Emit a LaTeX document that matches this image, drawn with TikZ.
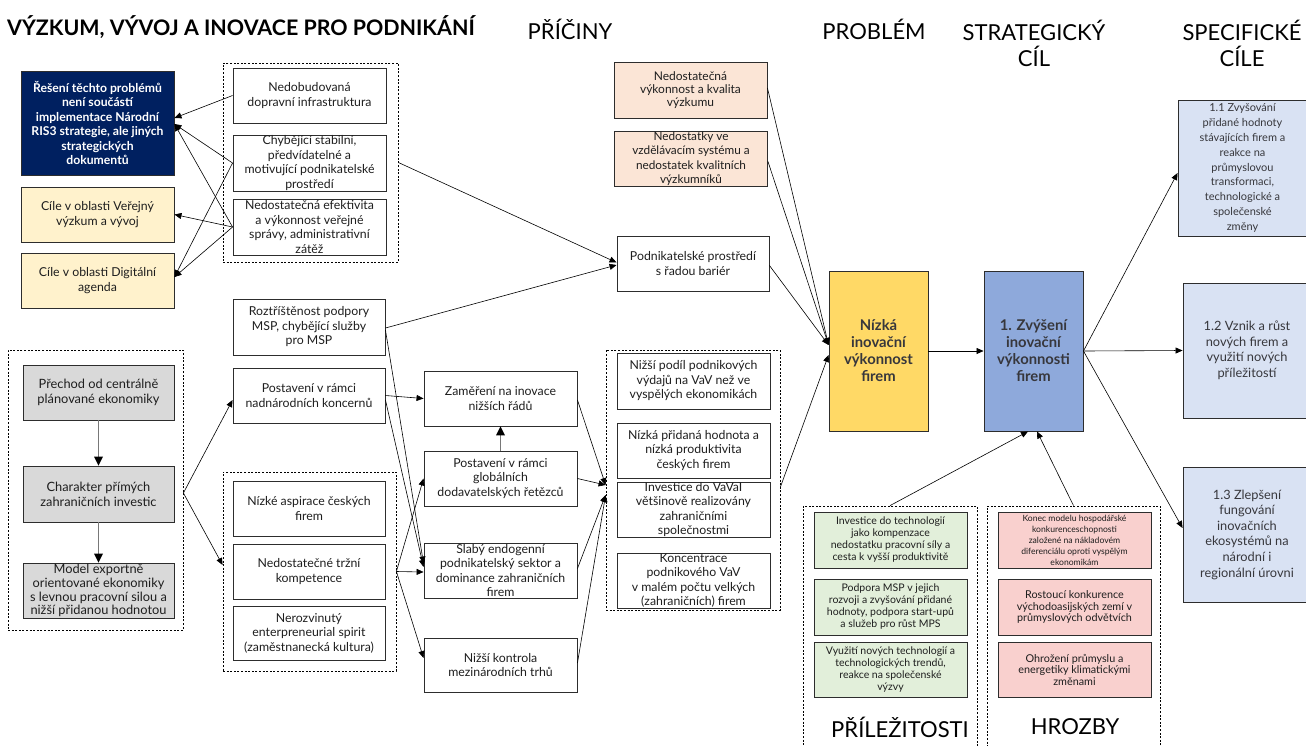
\documentclass[tikz,border=0pt]{standalone}
\usepackage{fontspec}
\setmainfont{Lato}
\usetikzlibrary{arrows.meta}
\definecolor{navyc}{RGB}{0,32,96}
\definecolor{yellc}{RGB}{255,242,204}
\definecolor{grayc}{RGB}{217,217,217}
\definecolor{peachc}{RGB}{251,229,214}
\definecolor{nizkac}{RGB}{255,217,102}
\definecolor{zvysc}{RGB}{142,169,219}
\definecolor{lbluec}{RGB}{217,226,243}
\definecolor{greenc}{RGB}{226,239,218}
\definecolor{pinkc}{RGB}{249,208,206}
\definecolor{bordc}{RGB}{45,45,45}
\definecolor{txtc}{RGB}{30,30,30}
\definecolor{darktxt}{RGB}{55,55,60}
\definecolor{linegray}{RGB}{120,120,120}
\newcommand\myfs[2]{\fontsize{#1}{#2}\selectfont}
\begin{document}
\begin{tikzpicture}[x=1pt,y=-1pt,
  box/.style={draw=bordc, line width=0.9pt, align=center, inner sep=0pt, text=txtc, font=\myfs{12.3}{14.5}},
  wh/.style 2 args={minimum width=#1pt, minimum height=#2pt},
  grp/.style={draw=black, dash pattern=on 2pt off 1.6pt, line width=0.8pt, inner sep=0pt},
  arr/.style={-{Triangle[length=7pt,width=6pt]}, line width=0.6pt, draw=black},
  gline/.style={line width=1.3pt, draw=linegray},
  gtip/.style={fill=black, draw=none},
  head/.style={font=\myfs{22}{26}, text=black, align=center, inner sep=0pt}]
\clip (0,0) rectangle (1306,745);
\fill[white] (0,0) rectangle (1306,745);

% titles
\node[anchor=west, inner sep=0pt, font=\bfseries\myfs{21.4}{24}] (title) at (7,27) {VÝZKUM, VÝVOJ A INOVACE PRO PODNIKÁNÍ};
\node[head] (hpric) at (570,29) {PŘÍČINY};
\node[head] (hprob) at (874,29) {PROBLÉM};
\node[head, anchor=north] (hstrat) at (1034,20) {STRATEGICKÝ\\CÍL};
\node[head, anchor=north] (hspec) at (1242,20) {SPECIFICKÉ\\CÍLE};
\node[head] (hpril) at (900,727) {PŘÍLEŽITOSTI};
\node[head] (hhroz) at (1075,727) {HROZBY};

% dashed groups
\node[grp, wh={175}{199}] (gA) at (310.5,162.5) {};
\node[grp, wh={173}{199}] (gB) at (309.5,571.5) {};
\node[grp, wh={175}{280}] (gL) at (95.5,490) {};
\node[grp, wh={174}{260}] (gC) at (693,480) {};
\node[grp, wh={174}{250}] (gO) at (890,631) {};
\node[grp, wh={173}{250}] (gT) at (1073.5,631) {};

% left column
\node[box, wh={153}{104}, fill=navyc, text=white, font=\bfseries\myfs{12.2}{14.4}] (navy) at (97.5,123) {Řešení těchto problémů\\není součástí\\implementace Národní\\RIS3 strategie, ale jiných\\strategických\\dokumentů};
\node[box, wh={153}{55}, fill=yellc] (ver) at (97.5,214.5) {Cíle v oblasti Veřejný\\výzkum a vývoj};
\node[box, wh={153}{55}, fill=yellc] (dig) at (97.5,280.5) {Cíle v oblasti Digitální\\agenda};
\node[box, wh={151}{55}, fill=grayc, font=\myfs{12.8}{15}] (prech) at (98.5,392.5) {Přechod od centrálně\\plánované ekonomiky};
\node[box, wh={151}{56}, fill=grayc, font=\myfs{12.8}{15}] (chara) at (98.5,494) {Charakter přímých\\zahraničních investic};
\node[box, wh={151}{55}, fill=grayc, font=\myfs{12.8}{13.8}] (model) at (98.5,590.5) {Model exportně\\orientované ekonomiky\\s levnou pracovní silou a\\nižší přidanou hodnotou};

% second column
\node[box, wh={153}{55}, fill=white] (nedob) at (309.5,95.5) {Nedobudovaná\\dopravní infrastruktura};
\node[box, wh={153}{56}, fill=white] (chyb) at (309.5,163) {Chybějící stabilní,\\předvídatelné a\\motivující podnikatelské\\prostředí};
\node[box, wh={153}{56}, fill=white] (nedef) at (309.5,227) {Nedostatečná efektivita\\a výkonnost veřejné\\správy, administrativní\\zátěž};
\node[box, wh={152}{56}, fill=white] (rozt) at (309,327) {Roztříštěnost podpory\\MSP, chybějící služby\\pro MSP};
\node[box, wh={152}{55}, fill=white] (postn) at (309,395.5) {Postavení v rámci\\nadnárodních koncernů};
\node[box, wh={152}{55}, fill=white] (nizke) at (309,508.5) {Nízké aspirace českých\\firem};
\node[box, wh={152}{55}, fill=white] (nedtrz) at (309,571.5) {Nedostatečné tržní\\kompetence};
\node[box, wh={152}{54}, fill=white] (nerozv) at (309,633) {Nerozvinutý\\enterpreneurial spirit\\(zaměstnanecká kultura)};

% third column
\node[box, wh={153}{55}, fill=white] (zamer) at (500.5,398.5) {Zaměření na inovace\\nižších řádů};
\node[box, wh={153}{55}, fill=white] (glob) at (500.5,478.5) {Postavení v rámci\\globálních\\dodavatelských řetězců};
\node[box, wh={153}{55}, fill=white] (slaby) at (500.5,570.5) {Slabý endogenní\\podnikatelský sektor a\\dominance zahraničních\\firem};
\node[box, wh={153}{54}, fill=white] (nizsi) at (500.5,665) {Nižší kontrola\\mezinárodních trhů};

% fourth column
\node[box, wh={153}{56}, fill=peachc, font=\myfs{12}{13}] (peachA) at (690.5,90) {Nedostatečná\\výkonnost a kvalita\\výzkumu};
\node[box, wh={153}{55}, fill=peachc, font=\myfs{11.8}{14.5}] (peachB) at (691,158.5) {Nedostatky ve\\vzdělávacím systému a\\nedostatek kvalitních\\výzkumníků};
\node[box, wh={152}{55}, fill=white] (podn) at (693,263.5) {Podnikatelské prostředí\\s řadou bariér};
\node[box, wh={153}{56}, fill=white] (c1) at (693.5,381) {Nižší podíl podnikových\\výdajů na VaV než ve\\vyspělých ekonomikách};
\node[box, wh={153}{55}, fill=white] (c2) at (693.5,450.5) {Nízká přidaná hodnota a\\nízká produktivita\\českých firem};
\node[box, wh={153}{55}, fill=white] (c3) at (693.5,509.5) {Investice do VaVaI\\většinově realizovány\\zahraničními\\společnostmi};
\node[box, wh={153}{55}, fill=white] (c4) at (693.5,580.5) {Koncentrace\\podnikového VaV\\v malém počtu velkých\\(zahraničních) firem};

% problem & strategic goal
\node[box, wh={99}{160}, fill=nizkac, text=darktxt, font=\bfseries\myfs{14.8}{17}] (nizka) at (878.5,351) {Nízká\\inovační\\výkonnost\\firem};
\node[box, wh={99}{160}, fill=zvysc, text=darktxt, font=\bfseries\myfs{14.8}{17}] (zvys) at (1033.5,351) {1. Zvýšení\\inovační\\výkonnosti\\firem};

% specific goals
\node[box, wh={129}{136}, fill=lbluec, text=darktxt, font=\myfs{11}{14.8}] (s11) at (1242.5,168) {1.1 Zvyšování\\přidané hodnoty\\stávajících firem a\\reakce na\\průmyslovou\\transformaci,\\technologické a\\společenské\\změny};
\node[box, wh={128}{135}, fill=lbluec, text=darktxt, font=\myfs{12.8}{15.5}] (s12) at (1247,350.5) {1.2 Vznik a růst\\nových firem a\\využití nových\\příležitostí};
\node[box, wh={128}{135}, fill=lbluec, text=darktxt, font=\myfs{12.8}{15.6}] (s13) at (1247,534.5) {1.3 Zlepšení\\fungování\\inovačních\\ekosystémů na\\národní i\\regionální úrovni};

% opportunities & threats
\node[box, wh={153}{56}, fill=greenc, font=\myfs{10.5}{12}] (g1) at (890.5,540) {Investice do technologií\\jako kompenzace\\nedostatku pracovní síly a\\cesta k vyšší produktivitě};
\node[box, wh={153}{56}, fill=greenc, font=\myfs{10.5}{12}] (g2) at (890.5,607) {Podpora MSP v jejich\\rozvoji a zvyšování přidané\\hodnoty, podpora start-upů\\a služeb pro růst MPS};
\node[box, wh={153}{55}, fill=greenc, font=\myfs{10.5}{12}] (g3) at (890.5,669.5) {Využití nových technologií a\\technologických trendů,\\reakce na společenské\\výzvy};
\node[box, wh={153}{56}, fill=pinkc, font=\myfs{8.6}{11}] (r1) at (1074.5,540) {Konec modelu hospodářské\\konkurenceschopnosti\\založené na nákladovém\\diferenciálu oproti vyspělým\\ekonomikám};
\node[box, wh={153}{56}, fill=pinkc, font=\myfs{10.8}{11.5}] (r2) at (1074.5,607) {Rostoucí konkurence\\východoasijských zemí v\\průmyslových odvětvích};
\node[box, wh={153}{55}, fill=pinkc, font=\myfs{10.8}{11.5}] (r3) at (1074.5,669.5) {Ohrožení průmyslu a\\energetiky klimatickými\\změnami};

% connectors: top-left block
\draw[arr] (nedob.west) -- ([yshift=5pt]navy.east);
\draw[arr] (chyb.west) -- ([yshift=-1pt]navy.east);
\draw[arr] (nedef.west) -- ([yshift=-1pt]navy.east);
\draw[arr] (chyb.west) -- ([yshift=3.5pt]dig.east);
\draw[arr] (nedef.west) -- (ver.east);
\draw[arr] (nedef.west) -- ([yshift=3.5pt]dig.east);
\draw[arr] (gA.east) -- ([yshift=1pt]podn.west);
\draw[arr] ([yshift=-1pt]rozt.east) -- ([yshift=-1.5pt]podn.west);

% into the problem
\draw[arr] ([yshift=2pt]peachA.east) -- ([yshift=6pt]nizka.west);
\draw[arr] ([yshift=-3pt]peachB.east) -- ([yshift=6pt]nizka.west);
\draw[arr] ([yshift=-2pt]podn.east) -- ([yshift=6pt]nizka.west);
\draw[arr] ([yshift=-7pt]gC.east) -- ([yshift=-4pt]nizka.west);
\draw[arr] (nizka.east) -- (zvys.west);
\draw[arr] (zvys.east) -- ([yshift=-5pt]s11.west);
\draw[arr] (zvys.east) -- (s12.west);
\draw[arr] (zvys.east) -- ([yshift=6.5pt]s13.west);
\draw[arr] (gO.north) -- ([xshift=-5.5pt]zvys.south);
\draw[arr] (gT.north) -- ([xshift=3.5pt]zvys.south);

% left bottom chain (gray lines, black heads)
\draw[gline] (prech.south) -- ([yshift=8pt]chara.north);
\fill[gtip] (chara.north) -- ++(-4.5,-9) -- ++(9,0) -- cycle;
\draw[gline] (chara.south) -- ([yshift=8pt]model.north);
\fill[gtip] (model.north) -- ++(-4.5,-9) -- ++(9,0) -- cycle;
\draw[arr] ([yshift=-3pt]gL.east) -- ([yshift=-4.5pt]postn.west);
\draw[arr] ([yshift=-3pt]gL.east) -- ([yshift=6.5pt]gB.west);

% middle
\draw[arr] ([yshift=-3pt]rozt.east) -- ([yshift=7pt]slaby.west);
\draw[arr] ([yshift=-4.5pt]postn.east) -- ([yshift=3.5pt]slaby.west);
\draw[arr] (postn.east) -- (zamer.west);
\draw[arr] (gB.east) -- (glob.west);
\draw[arr] (gB.east) -- ([yshift=-1.5pt]slaby.west);
\draw[arr] (gB.east) -- ([yshift=7pt]nizsi.west);
\draw[gline] (glob.north) -- ([yshift=-8pt]zamer.south);
\fill[gtip] (zamer.south) -- ++(-4.5,9) -- ++(9,0) -- cycle;
\draw[arr] ([yshift=-1.5pt]zamer.east) -- ([yshift=-5pt]gC.west);
\draw[arr] (glob.east) -- ([yshift=-5pt]gC.west);
\draw[arr] ([yshift=2pt]slaby.east) -- ([yshift=-15pt]gC.west);
\draw[arr] ([yshift=2pt]nizsi.east) -- ([yshift=-15pt]gC.west);
\end{tikzpicture}
\end{document}
